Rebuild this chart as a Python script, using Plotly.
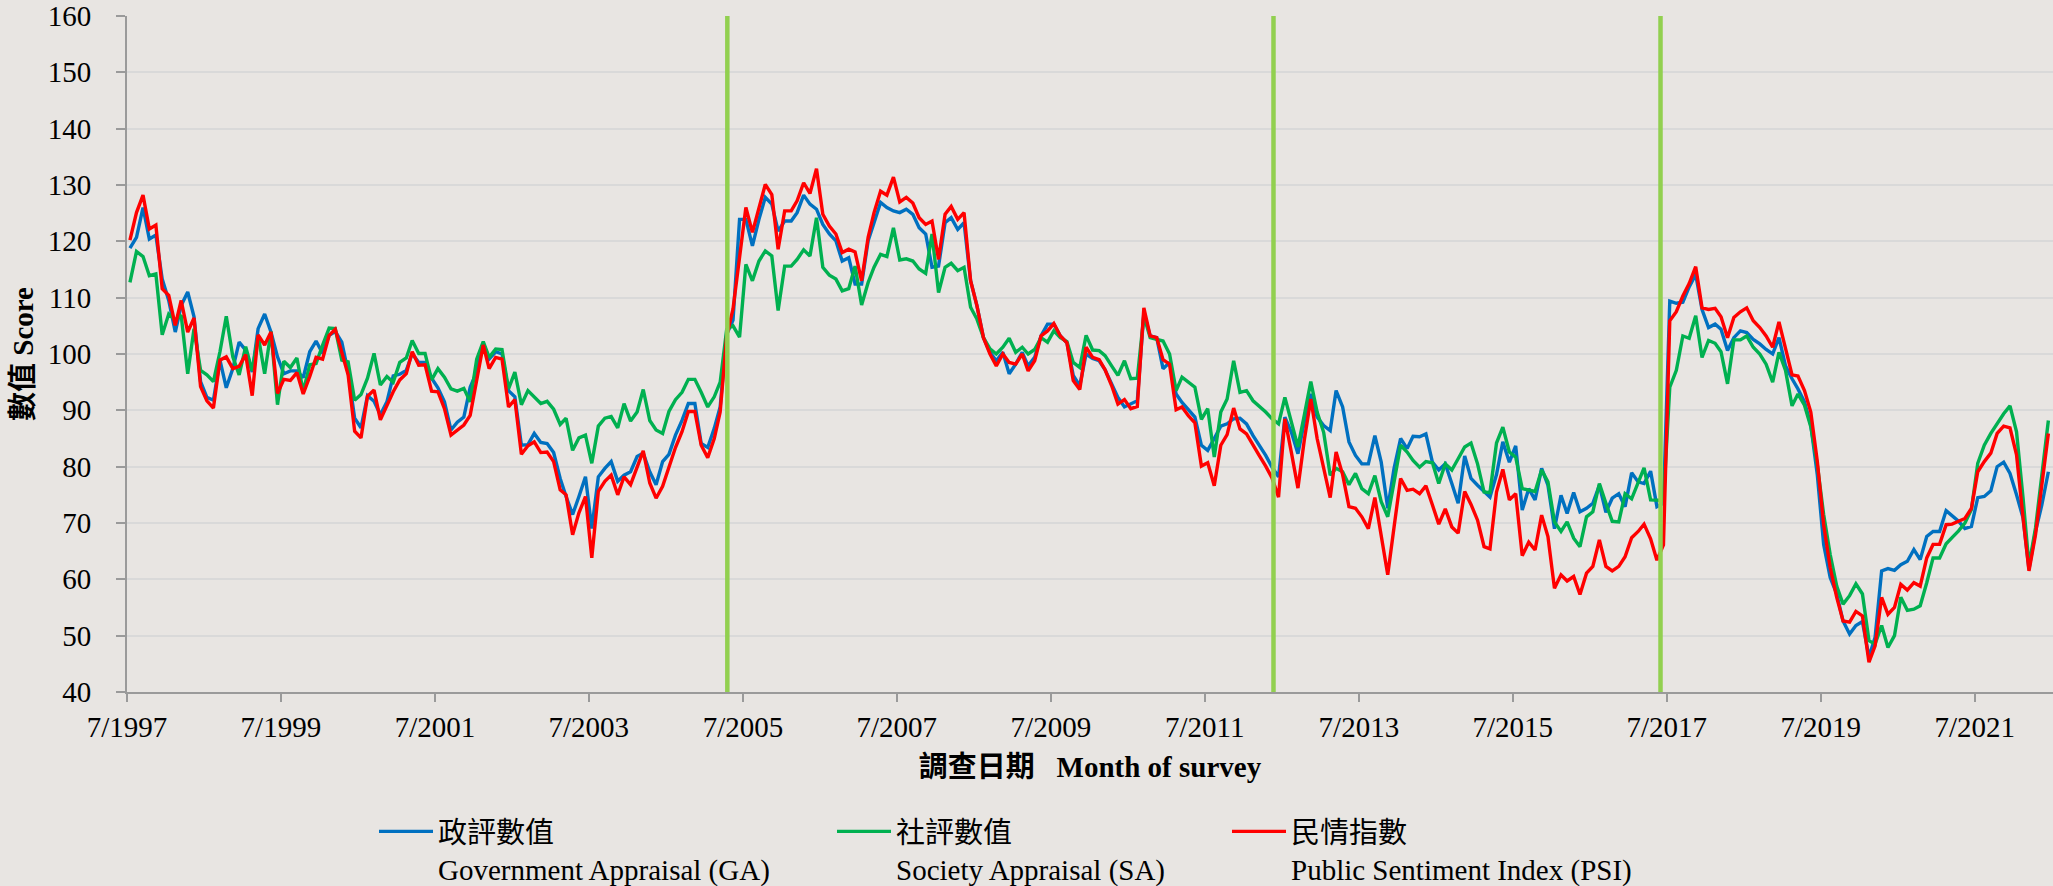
import pandas as pd
import plotly.graph_objects as go

# Monthly survey results, July 1997 - June 2022
ga = [118.8, 120.7, 126.0, 120.4, 121.1, 113.3, 109.5, 103.9, 108.6, 111.0, 106.6, 95.1, 92.3, 91.8, 98.9, 94.0, 97.4, 102.1, 100.7, 96.8, 104.5, 107.1, 103.9, 99.5, 96.5, 97.0, 97.0, 95.8, 100.4, 102.3, 100.1, 103.3, 104.0, 102.1, 96.8, 88.6, 86.9, 92.6, 91.6, 89.2, 91.5, 96.1, 96.4, 97.1, 100.1, 98.5, 98.5, 95.7, 94.0,
      91.5, 86.5, 87.9, 88.8, 94.1, 96.8, 101.9, 99.1, 100.4, 100.0, 93.5, 92.4, 83.8, 83.9, 85.9, 84.3, 84.1, 82.5, 77.9, 74.7, 71.5, 74.7, 78.2, 69.0, 78.2, 79.7, 80.9, 77.4, 78.5, 79.1, 81.8, 82.4, 79.1, 76.8, 80.9, 82.2, 85.6, 88.2, 91.2, 91.2, 84.1, 83.4, 86.8, 90.6, 103.5,
      106.0, 123.9, 123.9, 119.2, 123.9, 127.8, 126.6, 121.8, 123.6, 123.6, 125.1, 128.2, 126.6, 125.7, 123.0, 121.3, 120.1, 116.5, 117.1, 112.4, 112.4, 120.1, 123.3, 126.9, 126.0, 125.4, 125.1, 125.7, 124.8, 122.4, 121.3, 115.4, 115.6, 123.3, 124.2, 122.1, 123.3, 113.0, 108.6, 102.9, 100.3, 98.8, 100.3, 96.5, 98.2, 100.3, 97.9, 99.4, 103.2, 105.3, 105.3, 103.2,
      102.0, 96.2, 94.4, 100.0, 99.2, 98.8, 97.2, 94.7, 92.3, 90.6, 91.1, 91.7, 107.3, 103.2, 102.9, 97.4, 98.5, 92.9, 91.4, 90.0, 88.8, 83.8, 82.9, 85.0, 87.2, 87.6, 88.5, 88.6, 87.6, 85.5, 83.9, 82.0, 79.9, 78.2, 88.8, 86.1, 82.3, 87.9, 92.9, 88.8, 87.3, 86.4, 93.5, 90.6, 84.4, 82.0, 80.5,
      80.5, 85.5, 80.8, 72.6, 79.7, 85.0, 83.2, 85.4, 85.3, 85.8, 80.8, 79.4, 80.5, 77.0, 73.5, 81.9, 77.9, 76.7, 75.5, 74.6, 78.6, 84.4, 80.8, 83.7, 72.3, 76.1, 74.1, 79.7, 76.7, 69.0, 74.9, 71.7, 75.4, 72.0, 72.6, 73.5, 76.7, 71.9, 74.4, 75.2, 72.9, 78.9, 77.3, 77.0, 79.2, 72.9, 73.5,
      109.4, 109.0, 109.2, 111.9, 114.1, 107.9, 104.7, 105.3, 104.4, 100.6, 102.9, 104.1, 103.8, 102.6, 101.8, 100.8, 100.0, 102.9, 97.9, 95.6, 93.8, 91.5, 87.4, 78.5, 66.2, 60.3, 57.4, 52.6, 50.3, 51.8, 52.5, 46.2, 49.7, 61.5, 61.9, 61.6, 62.6, 63.2, 65.3, 63.5, 67.6, 68.5, 68.5, 72.2, 71.2, 70.3, 69.0, 69.4, 74.5, 74.7, 75.7, 80.0, 80.8, 78.8, 75.0, 70.9, 61.8, 68.5, 73.2, 79.1]

sa = [112.7, 118.2, 117.3, 113.9, 114.2, 103.4, 107.1, 106.0, 106.9, 96.5, 104.5, 97.1, 96.3, 95.1, 100.4, 106.7, 99.5, 96.3, 101.3, 97.0, 103.3, 96.5, 104.0, 91.0, 98.7, 97.6, 99.3, 93.3, 98.1, 98.3, 101.6, 104.6, 104.5, 98.9, 98.6, 91.8, 92.8, 95.7, 100.1, 94.5, 96.0, 95.0, 98.5, 99.3, 102.4, 100.1, 100.1, 95.4, 97.4,
      95.9, 93.8, 93.4, 93.9, 91.5, 99.1, 102.2, 99.4, 100.9, 100.8, 93.8, 96.8, 91.0, 93.5, 92.4, 91.2, 91.6, 90.2, 87.5, 88.6, 82.9, 85.1, 85.6, 80.6, 87.2, 88.6, 88.9, 86.9, 91.2, 88.1, 89.7, 93.7, 88.2, 86.5, 85.9, 89.8, 91.9, 93.2, 95.5, 95.5, 93.2, 90.6, 92.4, 95.0, 104.4,
      105.0, 103.0, 115.9, 113.0, 116.5, 118.3, 117.4, 107.7, 115.6, 115.6, 116.8, 118.5, 117.4, 124.2, 115.4, 114.0, 113.3, 111.2, 111.6, 115.6, 108.7, 112.7, 115.4, 117.7, 117.3, 122.4, 116.7, 116.9, 116.5, 115.1, 114.3, 121.3, 110.9, 115.4, 116.1, 114.8, 115.4, 108.3, 106.2, 102.9, 100.9, 100.0, 101.2, 102.8, 100.3, 101.2, 100.0, 100.8, 102.9, 102.1, 104.1, 102.9,
      102.2, 98.5, 97.6, 103.3, 100.7, 100.6, 99.7, 97.9, 96.2, 98.8, 95.6, 95.7, 106.8, 102.9, 102.6, 102.3, 100.0, 93.5, 95.9, 95.0, 94.1, 88.4, 90.3, 81.7, 89.7, 92.0, 98.8, 93.2, 93.5, 91.7, 90.8, 89.7, 88.5, 87.6, 92.3, 87.6, 83.5, 89.1, 95.1, 89.7, 86.1, 78.5, 79.7, 79.1, 76.8, 78.8, 76.1,
      75.2, 78.4, 73.8, 71.1, 77.3, 83.8, 82.6, 81.1, 79.9, 80.9, 80.7, 77.0, 80.5, 79.4, 81.4, 83.5, 84.2, 80.5, 75.5, 75.4, 84.2, 87.0, 82.6, 81.7, 76.1, 75.8, 75.6, 79.4, 77.3, 70.2, 68.5, 70.2, 67.3, 65.8, 71.1, 72.0, 77.0, 73.5, 70.3, 70.2, 75.2, 74.3, 77.3, 79.8, 74.1, 74.1, 74.0,
      94.1, 97.1, 103.2, 102.8, 106.8, 99.4, 102.4, 101.9, 100.4, 94.7, 102.5, 102.5, 103.2, 101.2, 100.0, 98.2, 95.0, 100.3, 97.1, 90.8, 92.9, 90.9, 87.1, 80.3, 71.5, 64.4, 58.8, 55.6, 57.1, 59.2, 57.4, 49.1, 48.5, 51.8, 47.9, 50.0, 56.8, 54.5, 54.7, 55.3, 59.4, 63.8, 63.8, 66.3, 67.4, 68.6, 70.0, 72.4, 80.6, 83.8, 85.9, 87.6, 89.4, 90.8, 86.2, 74.4, 62.5, 69.1, 78.5, 88.2]

psi = [120.2, 125.1, 128.2, 122.2, 122.9, 111.6, 110.4, 105.1, 109.5, 103.9, 106.4, 94.2, 91.7, 90.4, 98.9, 99.5, 97.4, 97.8, 99.9, 92.6, 103.4, 101.6, 103.9, 93.0, 95.5, 95.3, 96.7, 92.9, 96.0, 99.4, 99.1, 103.3, 104.4, 100.4, 96.3, 86.3, 85.1, 92.5, 93.6, 88.3, 91.0, 93.3, 95.4, 96.5, 100.4, 98.0, 98.1, 93.4, 93.3,
       90.3, 85.6, 86.5, 87.4, 89.1, 95.6, 101.6, 97.4, 99.4, 99.1, 90.6, 91.9, 82.2, 83.7, 84.4, 82.5, 82.6, 80.9, 75.9, 75.0, 67.9, 71.8, 74.7, 63.8, 75.6, 77.4, 78.5, 75.0, 78.2, 76.8, 79.7, 82.8, 77.1, 74.4, 76.5, 79.7, 83.4, 86.2, 89.8, 89.8, 83.8, 81.6, 85.0, 89.7, 103.2,
       108.0, 117.5, 126.0, 121.6, 125.7, 130.1, 128.3, 118.6, 125.4, 125.4, 127.2, 130.4, 128.5, 132.9, 124.8, 122.7, 121.3, 118.0, 118.6, 118.1, 113.0, 120.7, 125.1, 128.9, 128.2, 131.4, 127.0, 127.8, 126.8, 124.2, 123.0, 123.6, 116.8, 124.8, 126.2, 123.9, 125.1, 113.0, 108.6, 102.9, 100.0, 97.9, 100.0, 98.5, 98.2, 100.0, 97.0, 98.8, 103.2, 104.1, 105.4, 103.2,
       102.0, 95.3, 93.7, 101.2, 99.4, 99.0, 97.2, 94.4, 91.1, 91.9, 90.3, 90.7, 108.2, 103.2, 102.9, 99.0, 98.2, 90.1, 90.6, 89.0, 87.8, 80.1, 80.7, 76.6, 83.8, 85.7, 90.4, 86.7, 85.8, 83.7, 82.0, 80.1, 78.0, 74.6, 88.5, 82.5, 76.2, 84.7, 92.0, 85.0, 79.7, 74.5, 82.6, 78.6, 72.9, 72.6, 71.1,
       69.0, 74.5, 67.3, 60.8, 69.3, 77.9, 75.8, 76.0, 75.2, 76.6, 73.2, 69.8, 72.5, 69.3, 68.2, 75.6, 73.3, 70.5, 65.8, 65.4, 75.5, 79.5, 74.1, 75.2, 64.2, 66.6, 65.2, 71.4, 67.6, 58.4, 60.8, 59.7, 60.5, 57.3, 61.1, 62.3, 67.0, 62.3, 61.5, 62.3, 64.0, 67.4, 68.5, 69.8, 67.2, 63.4, 66.1,
       105.9, 107.5, 110.3, 112.5, 115.5, 108.2, 107.9, 108.1, 106.6, 102.9, 106.5, 107.5, 108.2, 105.9, 104.7, 103.2, 101.2, 105.7, 100.9, 96.3, 96.1, 93.5, 89.7, 80.9, 69.7, 62.1, 56.8, 52.6, 52.4, 54.3, 53.5, 45.3, 48.2, 56.8, 53.8, 55.0, 59.1, 58.1, 59.4, 58.8, 63.8, 66.2, 66.2, 69.7, 69.8, 70.3, 70.8, 72.6, 79.1, 80.9, 82.4, 85.9, 87.2, 86.9, 82.1, 70.9, 61.5, 67.9, 76.8, 85.9]

months = pd.date_range(start="1997-07-01", periods=len(psi), freq="MS") + pd.Timedelta(days=14)

tick_vals = ["1997-07-01", "1999-07-01", "2001-07-01", "2003-07-01", "2005-07-01", "2007-07-01", "2009-07-01",
             "2011-07-01", "2013-07-01", "2015-07-01", "2017-07-01", "2019-07-01", "2021-07-01"]
tick_text = ["7/1997", "7/1999", "7/2001", "7/2003", "7/2005", "7/2007", "7/2009",
             "7/2011", "7/2013", "7/2015", "7/2017", "7/2019", "7/2021"]
y_ticks = [40, 50, 60, 70, 80, 90, 100, 110, 120, 130, 140, 150, 160]
# Change of Chief Executive markers
divider_dates = ["2005-04-18", "2012-05-22", "2017-06-01"]

series_names = ["政評數值<br>Government Appraisal (GA)",
                "社評數值<br>Society Appraisal (SA)",
                "民情指數<br>Public Sentiment Index (PSI)"]
series_colors = ["#0070C0", "#00B050", "#FF0000"]

FONT = "Liberation Serif, 'Noto Sans CJK TC', serif"
W, H = 2053, 886

fig = go.Figure()
legend_ids = ["legend", "legend2", "legend3"]
for vals, name, col, lg in zip([ga, sa, psi], series_names, series_colors, legend_ids):
    fig.add_trace(go.Scatter(x=months, y=vals, mode="lines", name=name,
                             line=dict(color=col, width=3.4), legend=lg))

for d in divider_dates:
    fig.add_shape(type="line", xref="x", yref="y", x0=d, x1=d, y0=40, y1=160,
                  line=dict(color="#92D050", width=4.5), layer="above")

legend_left = [374, 832, 1227]
common_legend = dict(orientation="h", xref="container", yref="container", xanchor="left",
                     yanchor="top", y=1 - 806 / H, bgcolor="rgba(0,0,0,0)",
                     font=dict(family=FONT, size=29, color="black"), itemwidth=54, valign="top")
for lg, lx in zip(legend_ids, legend_left):
    fig.update_layout(**{lg: dict(common_legend, x=lx / W)})

fig.update_layout(
    width=W, height=H,
    margin=dict(l=126.5, r=0, t=16, b=194.3, autoexpand=False),
    paper_bgcolor="#E8E5E2", plot_bgcolor="#E8E5E2",
    font=dict(family=FONT, size=29, color="black"),
    showlegend=True,
    xaxis=dict(type="date", range=["1997-07-01", "2022-07-07"], tickvals=tick_vals, ticktext=tick_text,
               showgrid=False, showline=True, linecolor="#9A9A9A", linewidth=2,
               ticks="outside", ticklen=8, tickwidth=2, tickcolor="#9A9A9A",
               tickfont=dict(family=FONT, size=29), automargin=False, ticklabeloverflow="allow",
               title=dict(text="<b>調查日期\u00a0\u00a0\u00a0Month of survey</b>",
                          font=dict(family=FONT, size=29), standoff=15)),
    yaxis=dict(range=[40, 160], tickmode="array", tickvals=y_ticks, showgrid=True,
               gridcolor="#D9D9D9", gridwidth=1.5,
               showline=True, linecolor="#9A9A9A", linewidth=2, zeroline=False,
               ticks="outside", ticklen=9, tickwidth=2, tickcolor="#9A9A9A", ticklabelstandoff=19,
               tickfont=dict(family=FONT, size=29), automargin=False, ticklabeloverflow="allow",
               title=dict(text="<b>數值 Score</b>", font=dict(family=FONT, size=29), standoff=6)),
)

fig.write_html("out.html", config={"displayModeBar": False},
               post_script="document.body.style.margin='0';document.body.style.overflow='hidden';")
